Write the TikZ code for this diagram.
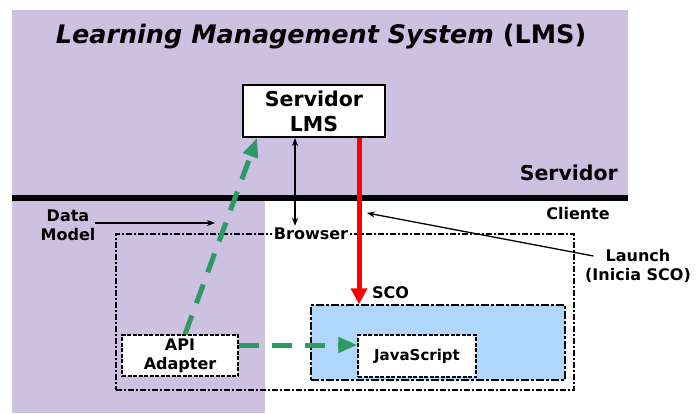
\documentclass[tikz,border=0pt]{standalone}
\usepackage{fontspec}
\setmainfont{DejaVu Sans}
\usetikzlibrary{arrows.meta}
\definecolor{lmspurple}{HTML}{CCC1E1}
\definecolor{scoblue}{HTML}{B0D6FC}
\definecolor{apigreen}{HTML}{2E9A63}
\definecolor{launchred}{HTML}{FF0000}
\begin{document}
\begin{tikzpicture}[x=1pt,y=-1pt,
  font=\bfseries\fontsize{16}{19}\selectfont,
  lbl/.style={inner sep=0pt, align=center},
  browserbox/.style={draw, line width=1.5pt, dash pattern=on 6pt off 2pt on 2pt off 2pt},
  scobox/.style={draw, fill=scoblue, line width=1.5pt, dash pattern=on 8pt off 2pt on 3pt off 2pt},
  smallbox/.style={draw, fill=white, line width=1.5pt, dash pattern=on 4pt off 1.5pt, inner sep=0pt, align=center},
  greenflow/.style={apigreen, line width=5pt, dash pattern=on 20pt off 13pt, -{Triangle[length=19pt,width=15pt]}},
  blackflow/.style={line width=1.3pt, -{Stealth[length=8pt,width=6pt]}},
]
\useasboundingbox (0,0) rectangle (698,413);

% server zone and the client part still inside the LMS
\fill[lmspurple] (12,10) rectangle (628,198);
\fill[lmspurple] (12,198) rectangle (265,413);
\draw[line width=6pt] (12,198) -- (628,198);

% title and zone labels
\node[lbl, font=\bfseries\fontsize{25.5}{30}\selectfont] (title) at (321,37)
  {\textit{Learning Management System} (LMS)};
\node[lbl, anchor=base east, font=\bfseries\fontsize{20.5}{24}\selectfont] (servlbl) at (618,180) {Servidor};
\node[lbl] (cliente) at (578,214) {Cliente};

% LMS server box
\node[draw, fill=white, line width=2pt, minimum width=142pt, minimum height=52pt,
  align=center, font=\bfseries\fontsize{20.5}{25}\selectfont] (srv) at (314,111) {Servidor\\LMS};

% browser frame with its label on the top edge
\node[browserbox, minimum width=458pt, minimum height=156pt] (browser) at (345,312) {};
\node[fill=white, inner sep=2pt] (brlbl) at (311,234) {Browser};

% SCO and its contents
\node[scobox, minimum width=254pt, minimum height=75pt] (sco) at (438,342.5) {};
\node[lbl, anchor=west] (scolbl) at (372,293) {SCO};
\node[smallbox, minimum width=118pt, minimum height=42pt,
  font=\bfseries\fontsize{15}{18}\selectfont] (js) at (417,356) {JavaScript};
\node[smallbox, minimum width=116pt, minimum height=41pt] (api) at (180,355.5) {API\\Adapter};

% side labels
\node[lbl] (dm) at (68,225) {Data\\Model};
\node[lbl] (launch) at (638,256) {Launch};
\node[lbl] (inicia) at (638,275) {(Inicia SCO)};
\coordinate (dmtip) at (215,223);
\coordinate (launchtip) at (367,213);

% connectors
\draw[blackflow] ([xshift=-1pt]dm.east |- dmtip) -- (dmtip);
\draw[blackflow] ([xshift=-12pt]launch.west) -- (launchtip);
\draw[line width=1.3pt, {Stealth[length=8pt,width=6pt]}-{Stealth[length=8pt,width=6pt]}]
  ([xshift=-19pt]srv.south) -- ([xshift=-19pt]srv.south |- brlbl.north);
\draw[launchred, line width=5pt, -{Triangle[length=16pt,width=16pt]}]
  ([xshift=-27pt]srv.south east) -- ([xshift=-27pt]srv.south east |- sco.north);
\draw[greenflow] ([xshift=5pt]api.north) -- ([xshift=15pt]srv.south west);
\draw[greenflow] (api.east |- 0,345) -- (js.west |- 0,345);
\end{tikzpicture}
\end{document}
